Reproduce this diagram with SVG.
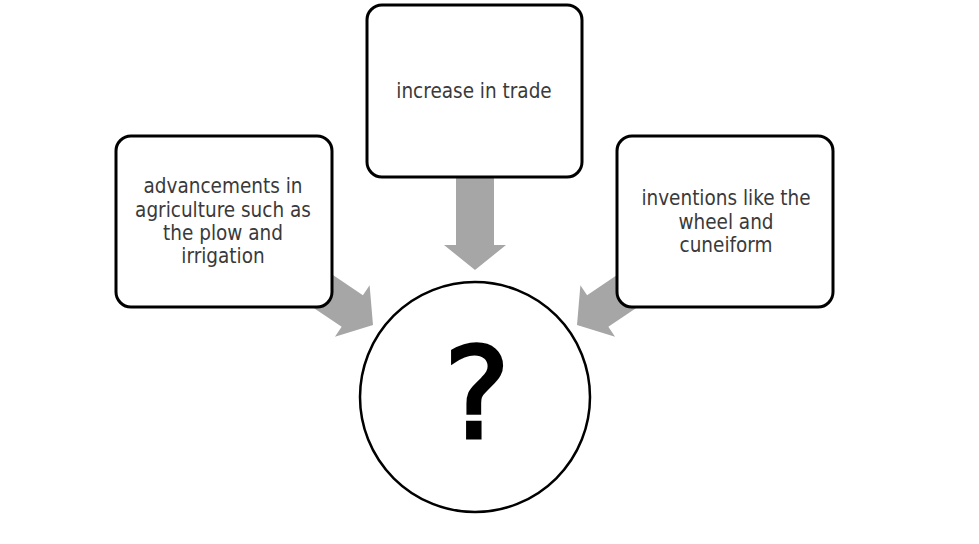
<svg xmlns="http://www.w3.org/2000/svg" width="979" height="544" viewBox="0 0 979 544">
  <defs>
    <style>
      .box { fill: #ffffff; stroke: #000000; stroke-width: 3; }
      .arrow { fill: #a6a6a6; stroke: none; }
      .lbl { font-family: "DejaVu Sans Condensed", "DejaVu Sans", sans-serif; font-size: 20.5px; fill: #3a3a3a; text-anchor: middle; }
      .q { font-family: "DejaVu Sans", sans-serif; font-size: 126px; fill: #000000; stroke: #000000; stroke-width: 3; text-anchor: middle; }
    </style>
    <path id="arr" d="M -95 -19 L -25 -19 L -25 -31 L 0 0 L -25 31 L -25 19 L -95 19 Z"/>
  </defs>
  <rect width="979" height="544" fill="#ffffff"/>
  <g id="connectors">
    <use href="#arr" class="arrow" transform="translate(475 270) rotate(90)"/>
    <use href="#arr" class="arrow" transform="translate(373 325) rotate(34)"/>
    <use href="#arr" class="arrow" transform="translate(577 325) rotate(146)"/>
  </g>
  <g id="node-trade">
    <rect class="box" x="367" y="5" width="215" height="172" rx="15"/>
    <text class="lbl" x="474" y="98">increase in trade</text>
  </g>
  <g id="node-agriculture">
    <rect class="box" x="116" y="136" width="216" height="171" rx="15"/>
    <text class="lbl" x="223" y="193">advancements in</text>
    <text class="lbl" x="223" y="217">agriculture such as</text>
    <text class="lbl" x="223" y="240">the plow and</text>
    <text class="lbl" x="223" y="263">irrigation</text>
  </g>
  <g id="node-inventions">
    <rect class="box" x="617" y="136" width="216" height="171" rx="15"/>
    <text class="lbl" x="726" y="205">inventions like the</text>
    <text class="lbl" x="726" y="229">wheel and</text>
    <text class="lbl" x="726" y="252">cuneiform</text>
  </g>
  <g id="node-center">
    <circle cx="475" cy="397" r="115" fill="#ffffff" stroke="#000000" stroke-width="2.5"/>
    <text class="q" x="477" y="438">?</text>
  </g>
</svg>
